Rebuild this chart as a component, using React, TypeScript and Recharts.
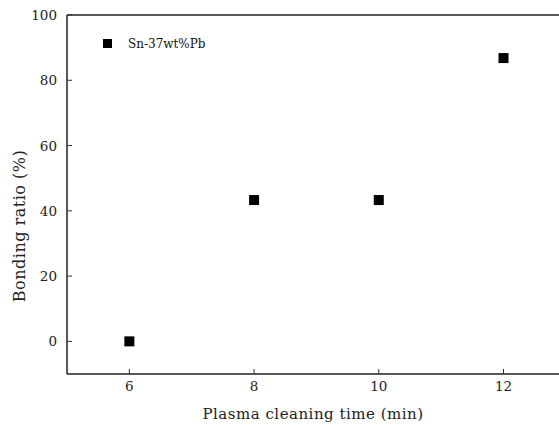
import { ScatterChart, Scatter, XAxis, YAxis, ReferenceLine, Label } from "recharts";

const cleaningTime = [6, 8, 10, 12];
const bondingRatio = [0, 43.3, 43.3, 86.8];
const xTicks = [6, 8, 10, 12];
const yTicks = [0, 20, 40, 60, 80, 100];
const seriesName = "Sn-37wt%Pb";

const data = cleaningTime.map((t, i) => ({ t, r: bondingRatio[i] }));

const FONT = "'DejaVu Serif', 'Liberation Serif', serif";

const Square = (props: any) => {
    const { cx, cy } = props;
    if (cx == null || cy == null) return null;
    return <rect x={cx - 5} y={cy - 5} width={10} height={10} fill="#000" />;
};

const YTick = (props: any) => {
    const { x, y, payload } = props;
    return (
        <g>
            <line x1={x + 10} x2={x + 15} y1={y} y2={y} stroke="#333" strokeWidth={1} />
            <text x={x} y={y} dy={5} textAnchor="end" fontSize={13.5} fontFamily={FONT} fill="#222">
                {payload.value}
            </text>
        </g>
    );
};

const XTick = (props: any) => {
    const { x, y, payload } = props;
    return (
        <g>
            <line x1={x} x2={x} y1={y - 8} y2={y - 13} stroke="#333" strokeWidth={1} />
            <text x={x} y={y} dy={9} textAnchor="middle" fontSize={13.5} fontFamily={FONT} fill="#222">
                {payload.value}
            </text>
        </g>
    );
};

export default function App() {
    return (
        <div style={{ position: "absolute", left: 0, top: 0, background: "#fff" }}>
            <ScatterChart width={559} height={425} margin={{ top: 15, right: 0, bottom: 0, left: 0 }}>
                <XAxis
                    type="number"
                    dataKey="t"
                    domain={[5, 12.89]}
                    allowDataOverflow
                    ticks={xTicks}
                    tick={<XTick />}
                    tickLine={false}
                    tickSize={0}
                    tickMargin={8}
                    height={51}
                    stroke="#222"
                    strokeWidth={1.5}
                >
                    <Label
                        value="Plasma cleaning time (min)"
                        position="insideBottom"
                        offset={6}
                        style={{ fontFamily: FONT, fontSize: 15, fill: "#222", letterSpacing: 0.5 }}
                    />
                </XAxis>
                <YAxis
                    type="number"
                    dataKey="r"
                    domain={[-10, 100]}
                    ticks={yTicks}
                    tick={<YTick />}
                    tickLine={false}
                    tickSize={0}
                    tickMargin={10}
                    width={67}
                    stroke="#222"
                    strokeWidth={1.5}
                />
                <ReferenceLine y={100} stroke="#222" strokeWidth={1.5} />
                <Scatter name={seriesName} data={data} shape={<Square />} isAnimationActive={false} />
                <g>
                    <rect x={103} y={39} width={9} height={9} fill="#000" />
                    <text x={128} y={48} fontFamily={FONT} fontSize={12} fill="#111">
                        {seriesName}
                    </text>
                </g>
                <text
                    x={19}
                    y={226}
                    transform="rotate(-90 19 226)"
                    textAnchor="middle"
                    dominantBaseline="central"
                    fontFamily={FONT}
                    fontSize={16}
                    fill="#222"
                    letterSpacing={0.5}
                >
                    Bonding ratio (%)
                </text>
            </ScatterChart>
        </div>
    );
}
